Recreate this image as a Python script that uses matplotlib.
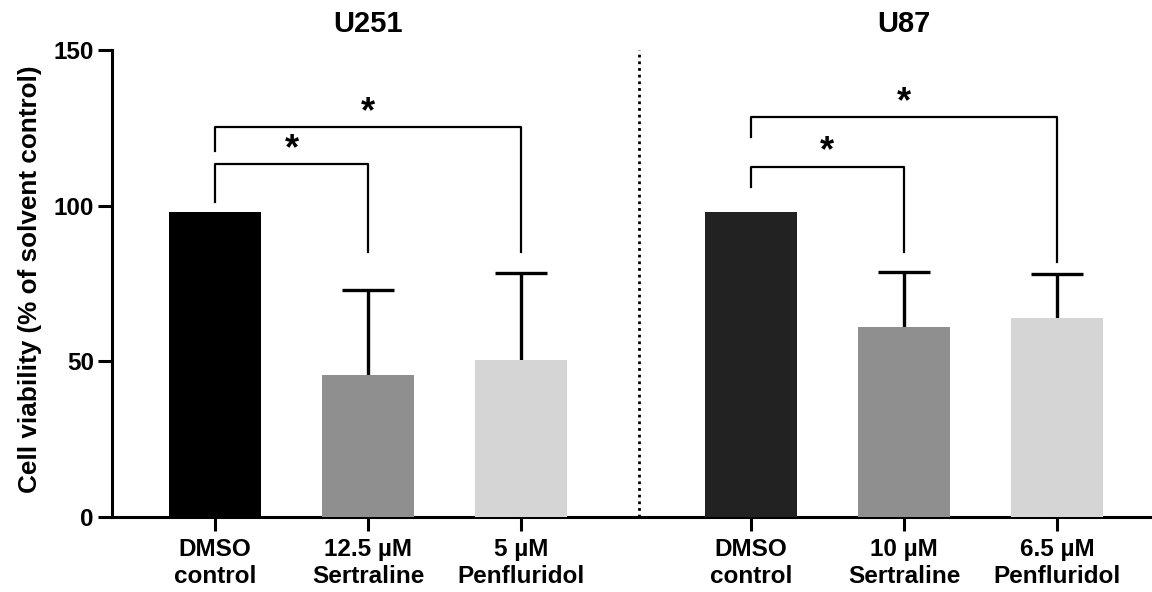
import matplotlib
matplotlib.use("Agg")
import matplotlib.pyplot as plt
import numpy as np

plt.rcParams['font.family'] = ['Liberation Sans', 'DejaVu Sans']
plt.rcParams['font.weight'] = 'bold'

# data
labels = ["DMSO\ncontrol", "12.5 µM\nSertraline", "5 µM\nPenfluridol",
          "DMSO\ncontrol", "10 µM\nSertraline", "6.5 µM\nPenfluridol"]
means = [98.0, 45.5, 50.5, 98.0, 61.1, 63.9]
sds = [0.0, 27.4, 28.0, 0.0, 17.7, 14.2]
colors = ["#000000", "#8f8f8f", "#d5d5d5", "#222222", "#8f8f8f", "#d5d5d5"]
groups = ["U251", "U87"]

# brackets: (from bar, to bar, height, left leg bottom, right leg bottom, star y)
brackets = [
    (0, 1, 113.4, 101.3, 85.2, 118.0),
    (0, 2, 125.4, 117.6, 85.0, 130.0),
    (3, 4, 112.5, 105.9, 85.0, 117.4),
    (3, 5, 128.6, 122.2, 82.0, 133.2),
]

pos = np.array([0, 1, 2, 3.5, 4.5, 5.5])

fig = plt.figure(figsize=(11.52, 5.92), dpi=100)
ax = fig.add_axes([112/1152, 75/592, 1040/1152, 467/592])

ax.bar(pos, means, width=0.6, color=colors, zorder=3)

has_err = np.array(sds) > 0
_, caps, _ = ax.errorbar(pos[has_err], np.array(means)[has_err],
                         yerr=[np.zeros(has_err.sum()), np.array(sds)[has_err]],
                         fmt="none", ecolor="black", elinewidth=2.4, capsize=19,
                         capthick=2.4, zorder=2)
caps[0].set_visible(False)  # only the upper cap is shown

for a, b, h, la, lb, sy in brackets:
    ax.plot([pos[a], pos[a], pos[b], pos[b]], [la, h, h, lb], color="black", lw=1.6, zorder=4)
    ax.text((pos[a] + pos[b]) / 2, sy, "*", ha="center", va="center", fontsize=26, fontweight="bold")

# separator between the two cell lines
ax.plot([2.77, 2.77], [0, 150], color="black", lw=2, linestyle=(0, (1, 1.4)), zorder=1)

ax.text(1, 1.056, groups[0], transform=ax.get_xaxis_transform(), ha="center", va="center",
        fontsize=21, fontweight="bold")
ax.text(4.5, 1.056, groups[1], transform=ax.get_xaxis_transform(), ha="center", va="center",
        fontsize=21, fontweight="bold")

ax.set_xlim(-0.673, 6.12)
ax.set_ylim(0, 150)
ax.set_yticks([0, 50, 100, 150])
ax.set_xticks(pos)
ax.set_xticklabels(labels, fontsize=17.5, fontweight="bold", linespacing=1.25)
ax.tick_params(axis="y", labelsize=17.5, width=2.2, length=10, pad=3)
ax.tick_params(axis="x", width=2.2, length=10, pad=5)
for lab in ax.get_yticklabels():
    lab.set_fontweight("bold")

ax.spines["top"].set_visible(False)
ax.spines["right"].set_visible(False)
ax.spines["left"].set_linewidth(2.2)
ax.spines["bottom"].set_linewidth(2.2)

ax.set_ylabel("Cell viability (% of solvent control)", fontsize=18.8, fontweight="bold")
ax.yaxis.set_label_coords(-0.067, 0.51)

fig.savefig("out.png", dpi=100)
